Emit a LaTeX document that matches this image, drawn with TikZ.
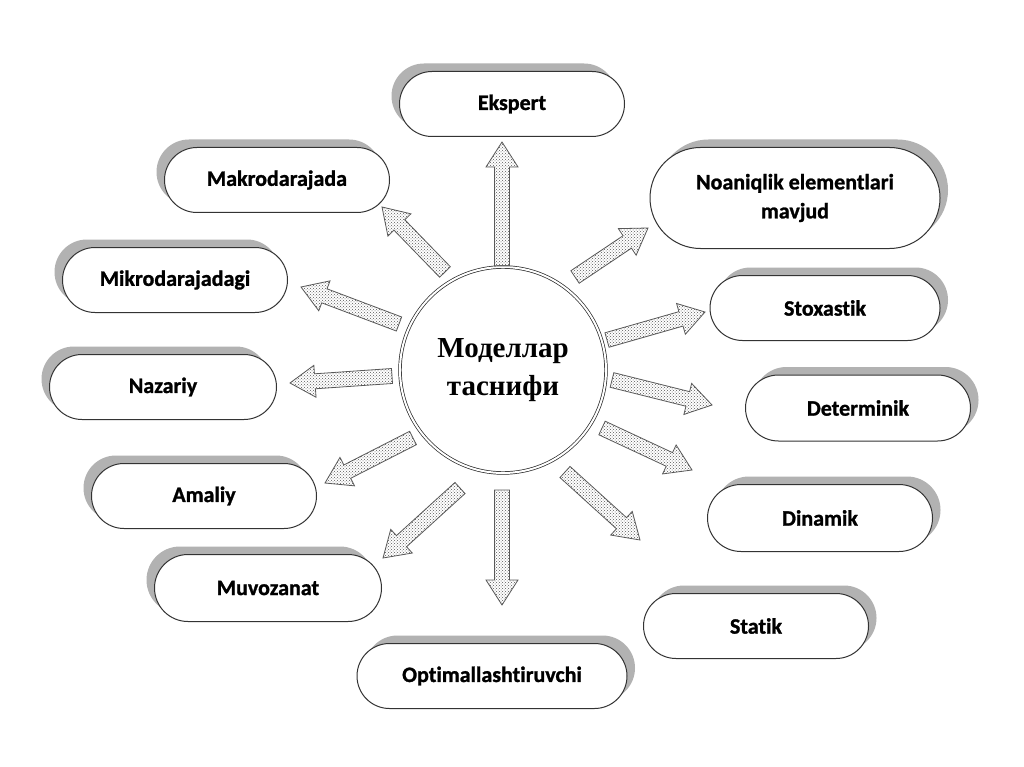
\documentclass[tikz,border=0pt]{standalone}
\usepackage{fontspec}
\setmainfont{Carlito}
\newfontfamily\boxfont{Carlito}[FakeBold=1.2, Ligatures=NoCommon]
\newfontfamily\serifcyr{Liberation Serif}
\usetikzlibrary{shapes.misc,patterns,calc,shadows}

\newcommand\blockarr[2]{%
  \coordinate (n#1) at ($(#2)!25pt!(#1)$);
  \draw[barrow] ($(#1)!7.5pt!90:(#2)$) -- ($(n#1)!7.5pt!90:(#2)$) -- ($(n#1)!16pt!90:(#2)$) -- (#2)
    -- ($(n#1)!16pt!-90:(#2)$) -- ($(n#1)!7.5pt!-90:(#2)$) -- ($(#1)!7.5pt!-90:(#2)$) -- cycle;}

\begin{document}
\begin{tikzpicture}[x=1pt,y=-1pt,
  box/.style={rounded rectangle, draw=black!80, line width=1pt, fill=white,
    minimum width=225pt, minimum height=65pt,
    font=\boxfont\fontsize{22}{29}\selectfont\bfseries, align=center, inner sep=0pt},
  shl/.style={drop shadow={shadow xshift=-8pt, shadow yshift=8pt, draw=none, fill=gray!60, opacity=1}},
  shr/.style={drop shadow={shadow xshift=8pt, shadow yshift=8pt, draw=none, fill=gray!60, opacity=1}},
  barrow/.style={draw=black!65, line width=0.8pt, pattern=crosshatch dots, pattern color=black!65}
]
\fill[white] (0,0) rectangle (1024,767);
\useasboundingbox (0,0) rectangle (1024,767);

% boxes
\node[box,shl] (ekspert) at (512,104) {Ekspert};
\node[box,shl] (makro) at (277,180) {Makrodarajada};
\node[box,shr,minimum width=290pt,minimum height=101pt] (noaniq) at (795,198) {Noaniqlik elementlari\\mavjud};
\node[box,shl] (mikro) at (175,280) {Mikrodarajadagi};
\node[box,shr,minimum width=230pt] (stox) at (825,308) {Stoxastik};
\node[box,shl,minimum width=227pt] (nazariy) at (163,387) {Nazariy};
\node[box,shr,minimum height=66pt] (determ) at (858,408) {Determinik};
\node[box,shl] (amaliy) at (204,496) {Amaliy};
\node[box,shr,minimum height=67pt] (dinamik) at (820,518) {Dinamik};
\node[box,shl,minimum width=227pt,minimum height=67pt] (muvoz) at (268,588) {Muvozanat};
\node[box,shr] (statik) at (756,626) {Statik};
\node[box,shr,minimum width=270pt] (optim) at (492,676) {Optimallashtiruvchi};

% centre
\node[circle, draw=black!85, double, double distance=2pt, line width=0.7pt, minimum size=206pt,
  font=\serifcyr\bfseries\fontsize{29}{38}\selectfont, align=center] (c) at (503,370) {Моделлар\\таснифи};

% arrows
\coordinate (t1) at (502,266); \coordinate (h1) at (502,142);
\coordinate (t2) at (445,272); \coordinate (h2) at (382,207);
\coordinate (t3) at (399,324); \coordinate (h3) at (301,287);
\coordinate (t4) at (392,376); \coordinate (h4) at (290,383);
\coordinate (t5) at (413,438); \coordinate (h5) at (325,483);
\coordinate (t6) at (460,488); \coordinate (h6) at (383,558);
\coordinate (t7) at (502,490); \coordinate (h7) at (502,605);
\coordinate (t8) at (565,472); \coordinate (h8) at (640,540);
\coordinate (t9) at (602,428); \coordinate (h9) at (692,470);
\coordinate (t10) at (612,380); \coordinate (h10) at (712,405);
\coordinate (t11) at (607,340); \coordinate (h11) at (705,312);
\coordinate (t12) at (575,277); \coordinate (h12) at (648,228);
\blockarr{t1}{h1}
\blockarr{t2}{h2}
\blockarr{t3}{h3}
\blockarr{t4}{h4}
\blockarr{t5}{h5}
\blockarr{t6}{h6}
\blockarr{t7}{h7}
\blockarr{t8}{h8}
\blockarr{t9}{h9}
\blockarr{t10}{h10}
\blockarr{t11}{h11}
\blockarr{t12}{h12}
\end{tikzpicture}
\end{document}
